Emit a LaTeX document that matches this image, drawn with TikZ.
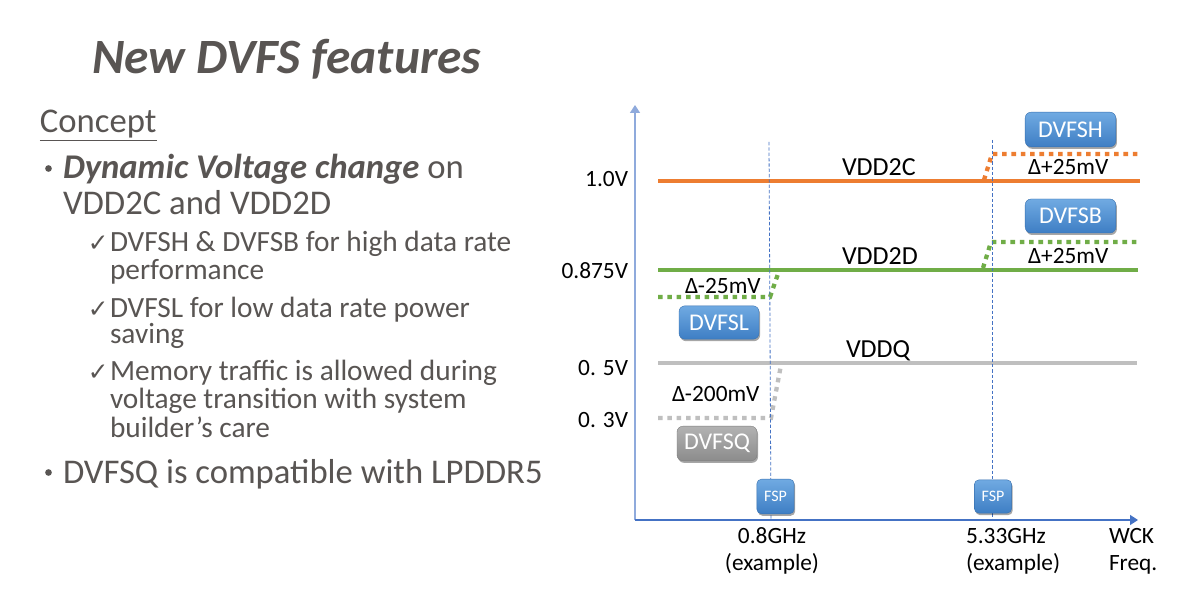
\documentclass[tikz,border=0pt]{standalone}
\usepackage{fontspec}
\setmainfont{Carlito}
\newfontfamily\djv{DejaVu Sans}
\usetikzlibrary{arrows.meta,shadows}
\definecolor{txt}{RGB}{89,85,83}
\definecolor{vorange}{RGB}{237,125,49}
\definecolor{vgreen}{RGB}{112,173,71}
\definecolor{vgray}{RGB}{191,191,191}
\definecolor{axblue}{RGB}{68,114,196}
\definecolor{axlight}{RGB}{143,170,220}
\definecolor{btop}{RGB}{112,170,226}
\definecolor{bbot}{RGB}{62,126,196}
\definecolor{gtop}{RGB}{178,178,178}
\definecolor{gbot}{RGB}{140,140,140}
\begin{document}
\begin{tikzpicture}[x=0.75pt,y=-0.75pt,
  every node/.style={inner sep=0pt,outer sep=0pt},
  lbl/.style={font=\fontsize{17.5}{20}\selectfont,text=black},
  vlbl/.style={font=\fontsize{19.5}{22}\selectfont,text=black},
  lvlone/.style={anchor=base west,font=\fontsize{26}{30}\selectfont,text=txt},
  lvltwo/.style={anchor=base west,font=\fontsize{22}{26}\selectfont,text=txt},
  chk/.style={anchor=base east,font=\djv\fontsize{18.5}{20}\selectfont,text=txt},
  blt/.style={circle,fill=txt,minimum size=5pt},
  level/.style={line width=3pt},
  dotlvl/.style={line width=3.2pt,dash pattern=on 3.4pt off 3.6pt},
  guide/.style={draw=axblue,line width=0.6pt,dash pattern=on 2.5pt off 1.5pt},
  bluebox/.style={rounded corners=4.5pt,top color=btop,bottom color=bbot,draw=bbot!90!black,line width=0.3pt,
     drop shadow={shadow xshift=0.8pt,shadow yshift=-1.5pt,opacity=0.35,fill=black},
     text=white,font=\fontsize{18}{20}\selectfont,align=center},
  graybox/.style={bluebox,top color=gtop,bottom color=gbot,draw=gbot!90!black},
  fspbox/.style={bluebox,rounded corners=3.5pt,font=\fontsize{12}{14}\selectfont},
]
\useasboundingbox[fill=white] (0,0) rectangle (1197,599);

% ---------- left text ----------
\node[anchor=base west,font=\fontsize{37}{40}\selectfont\bfseries\itshape,text=txt] (title) at (92,74) {New DVFS features};
\node[lvlone] (concept) at (40,133) {\underline{Concept}};
\node[blt] (b1) at (48.5,168.5) {};
\node[lvlone] (l1a) at (63,179) {\textbf{\textit{Dynamic Voltage change}} on};
\node[lvlone] (l1b) at (63,215) {VDD2C and VDD2D};
\node[chk] (c1) at (108.5,252) {✓};
\node[lvltwo] (l2a) at (110,252) {DVFSH \& DVFSB for high data rate};
\node[lvltwo] (l2b) at (110,280) {performance};
\node[chk] (c2) at (108.5,317) {✓};
\node[lvltwo] (l3a) at (110,317) {DVFSL for low data rate power};
\node[lvltwo] (l3b) at (110,344) {saving};
\node[chk] (c3) at (108.5,380) {✓};
\node[lvltwo] (l4a) at (110,380) {Memory traffic is allowed during};
\node[lvltwo] (l4b) at (110,408) {voltage transition with system};
\node[lvltwo] (l4c) at (110,437) {builder’s care};
\node[blt] (b2) at (48.5,472.5) {};
\node[lvlone] (l5) at (63,483) {DVFSQ is compatible with LPDDR5};

% ---------- chart ----------
\coordinate (org) at (635,520);
\coordinate (ytop) at (635,105);
\coordinate (xend) at (1138,520);
\draw[axlight,line width=1.1pt,-{Triangle[width=7.5pt,length=6pt]}] (org) -- (ytop);
\draw[axblue,line width=1.1pt,-{Triangle[width=7.5pt,length=6pt]}] (org) -- (xend);

% solid levels
\draw[level,vorange] (658,181) -- (1140,181);
\draw[level,vgreen] (658,270) -- (1138,270);
\draw[level,vgray] (658,363) -- (1137,363);

% dotted levels
\draw[dotlvl,vorange] (984,180) -- (992,154) -- (1140,154);
\draw[dotlvl,vgreen] (983,268) -- (991,242) -- (1138,242);
\draw[dotlvl,vgreen] (658,297) -- (770,297) -- (779,271);
\draw[dotlvl,vgray] (658,418) -- (771,418) -- (781,365);

% guides
\coordinate (g1t) at (769,142);
\coordinate (g1b) at (771,520);
\coordinate (g2t) at (992,140);
\coordinate (g2b) at (992,520);
\draw[guide] (g1t) -- (g1b);
\draw[guide] (g2t) -- (g2b);

% boxes
\node[bluebox,minimum width=68pt,minimum height=26pt] (dvfsh) at (1070.5,129.5) {DVFSH};
\node[bluebox,minimum width=68pt,minimum height=25.5pt] (dvfsb) at (1070.5,216) {DVFSB};
\node[bluebox,minimum width=60pt,minimum height=25pt] (dvfsl) at (719,322.5) {DVFSL};
\node[graybox,minimum width=60pt,minimum height=26pt] (dvfsq) at (717,443.5) {DVFSQ};
\node[fspbox,minimum width=28pt,minimum height=26pt] (fsp1) at (775.5,496.5) {FSP};
\node[fspbox,minimum width=28pt,minimum height=25pt] (fsp2) at (993,496.5) {FSP};

% labels
\node[lbl,anchor=base east] (v10) at (628,187) {1.0V};
\node[lbl,anchor=base east] (v0875) at (628,278) {0.875V};
\node[lbl,anchor=base east] (v05) at (628,375) {0. 5V};
\node[lbl,anchor=base east] (v03) at (628,427) {0. 3V};
\node[vlbl,anchor=base west] (vdd2c) at (842,176) {VDD2C};
\node[vlbl,anchor=base west] (vdd2d) at (842,265) {VDD2D};
\node[vlbl,anchor=base west] (vddq) at (846,358) {VDDQ};
\node[lbl,anchor=base west] (d25l) at (685,293) {Δ-25mV};
\node[lbl,anchor=base west] (d200) at (672,401) {Δ-200mV};
\node[lbl,anchor=base west] (d25h) at (1028,175) {Δ+25mV};
\node[lbl,anchor=base west] (d25b) at (1028,263) {Δ+25mV};
\node[lbl,anchor=base] (f08) at (772,543) {0.8GHz};
\node[lbl,anchor=base] (f08e) at (772,570) {(example)};
\node[lbl,anchor=base west] (f533) at (966,543) {5.33GHz};
\node[lbl,anchor=base west] (f533e) at (966,570) {(example)};
\node[lbl,anchor=base west] (wck) at (1109,543) {WCK};
\node[lbl,anchor=base west] (freq) at (1109,570) {Freq.};
\end{tikzpicture}
\end{document}
